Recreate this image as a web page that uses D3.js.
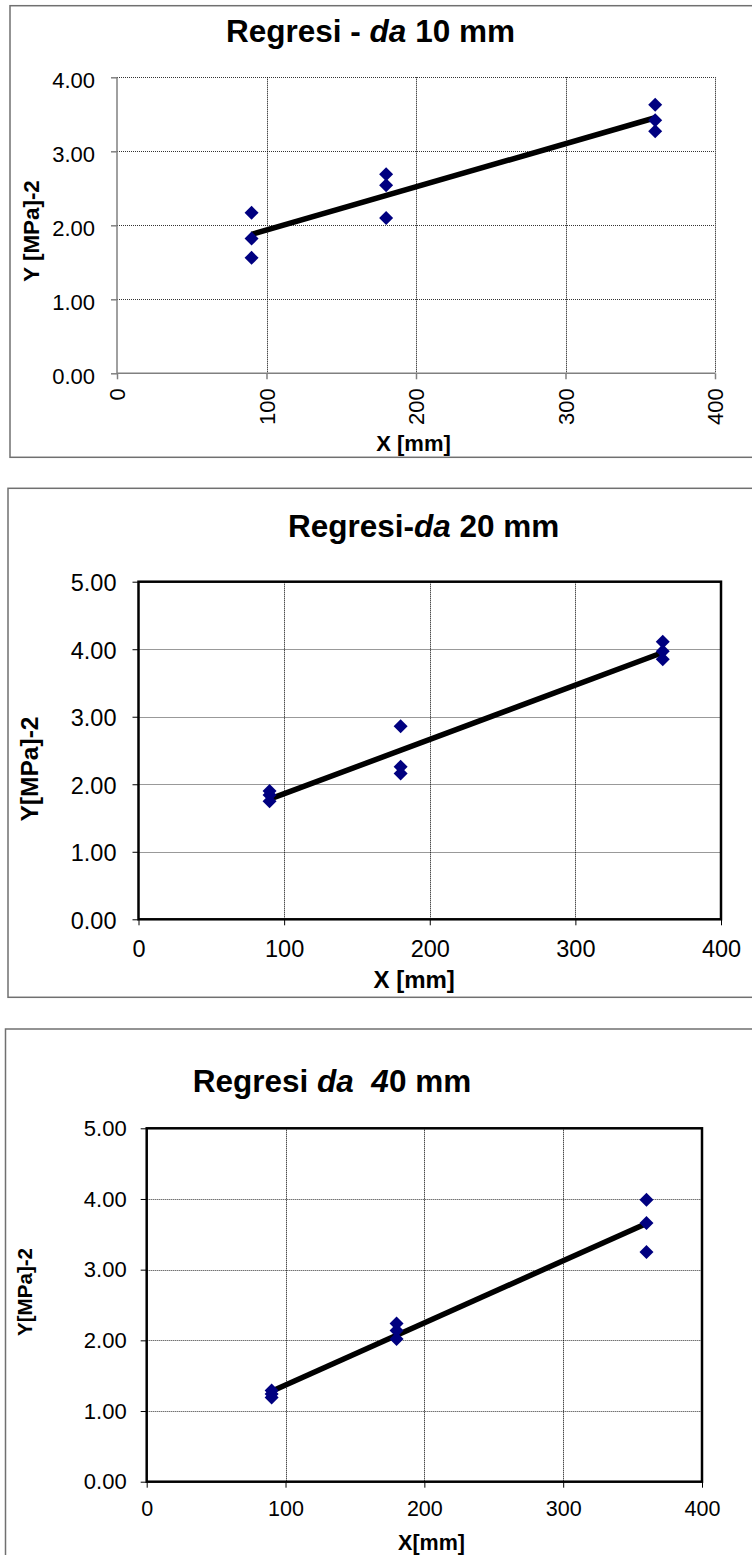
<!DOCTYPE html>
<html>
<head>
<meta charset="utf-8">
<script src="https://cdn.jsdelivr.net/npm/d3@7"></script>
<style>
  body { margin: 0; background: #fff; }
  svg { display: block; font-family: "Liberation Sans", Arial, sans-serif; }
</style>
</head>
<body>
<svg id="chart" width="752" height="1555"></svg>
<script>
// values
var xTicks = [0, 100, 200, 300, 400];
var yTicks4 = [0, 1, 2, 3, 4];
var yTicks5 = [0, 1, 2, 3, 4, 5];

// da 10 mm
var x10 = [90, 90, 90, 180, 180, 180, 360, 360, 360];
var y10 = [2.17, 1.82, 1.56, 2.69, 2.54, 2.10, 3.63, 3.42, 3.27];
// da 20 mm
var x20 = [90, 90, 90, 180, 180, 180, 360, 360, 360];
var y20 = [1.90, 1.84, 1.75, 2.86, 2.26, 2.16, 4.11, 3.97, 3.85];
// da 40 mm
var x40 = [90, 90, 90, 180, 180, 180, 360, 360, 360];
var y40 = [1.29, 1.24, 1.19, 2.24, 2.14, 2.02, 3.99, 3.66, 3.25];

var svg = d3.select("#chart");

// least squares line through the points (Excel linear trendline)
function fit(xs, ys) {
    var mx = d3.mean(xs), my = d3.mean(ys);
    var sxy = d3.sum(xs, function (d, i) { return (d - mx) * (ys[i] - my); });
    var sxx = d3.sum(xs, function (d) { return (d - mx) * (d - mx); });
    var b = sxy / sxx;
    return function (x) { return my + b * (x - mx); };
}

// snap 1px lines onto the pixel grid so the dots stay dark
function crisp(v) { return Math.round(v) + 0.5; }

function drawPanel(p) {
    var g = svg.append("g");

    // outer chart frame (runs off the right edge)
    g.append("rect")
        .attr("x", p.frame[0]).attr("y", p.frame[1])
        .attr("width", 800).attr("height", p.frame[2] - p.frame[1])
        .attr("fill", "none").attr("stroke", "#707070").attr("stroke-width", 1.5);

    var x = d3.scaleLinear().domain([0, 400]).range([p.left, p.right]);
    var y = d3.scaleLinear().domain([0, d3.max(p.yTicks)]).range([p.bottom, p.top]);

    // dotted grid
    var yMax = d3.max(p.yTicks);
    var hGrid = p.yTicks.filter(function (d) { return d > 0 && (p.box ? d < yMax : true); });
    var vGrid = xTicks.filter(function (d) { return d > 0 && (p.box ? d < 400 : true); });
    g.selectAll(".hg").data(hGrid).enter().append("line")
        .attr("x1", p.left).attr("x2", p.right)
        .attr("y1", function (d) { return crisp(y(d)); })
        .attr("y2", function (d) { return crisp(y(d)); })
        .attr("stroke", "#333").attr("stroke-width", 1).attr("stroke-dasharray", "1,1");
    g.selectAll(".vg").data(vGrid).enter().append("line")
        .attr("x1", function (d) { return crisp(x(d)); })
        .attr("x2", function (d) { return crisp(x(d)); })
        .attr("y1", p.top).attr("y2", p.bottom)
        .attr("stroke", "#000").attr("stroke-width", 1).attr("stroke-dasharray", "1,1");

    var axisColor = p.box ? "#000" : "#808080";

    // y axis
    var ya = g.append("g")
        .attr("transform", "translate(" + p.left + ",0)")
        .call(d3.axisLeft(y).tickValues(p.yTicks).tickFormat(d3.format(".2f"))
            .tickSize(6).tickSizeOuter(0).tickPadding(p.yPad));
    ya.select(".domain").remove();
    ya.selectAll("line").attr("stroke", axisColor).attr("stroke-width", p.box ? 1 : 1.5);
    ya.selectAll("text")
        .attr("font-family", "Liberation Sans, Arial, sans-serif")
        .attr("font-size", p.tickFont).attr("fill", "#000").attr("dy", p.yDy);

    // x axis
    var xa = g.append("g")
        .attr("transform", "translate(0," + p.bottom + ")")
        .call(d3.axisBottom(x).tickValues(xTicks).tickSize(6).tickSizeOuter(0));
    xa.select(".domain").remove();
    xa.selectAll("line").attr("stroke", axisColor).attr("stroke-width", p.box ? 1 : 1.5);
    var xt = xa.selectAll("text")
        .attr("font-family", "Liberation Sans, Arial, sans-serif")
        .attr("font-size", p.xTickFont).attr("fill", "#000");
    if (p.rotate) {
        xt.attr("transform", "rotate(-90)")
            .attr("text-anchor", "end")
            .attr("x", -15).attr("y", 7.8).attr("dy", 0);
    } else {
        xt.attr("y", p.xLabelBase).attr("dy", 0);
    }

    if (p.box) {
        g.append("rect")
            .attr("x", p.left).attr("y", p.top)
            .attr("width", p.right - p.left).attr("height", p.bottom - p.top)
            .attr("fill", "none").attr("stroke", "#000").attr("stroke-width", 2.5);
    } else {
        g.append("line")
            .attr("x1", p.left).attr("x2", p.left).attr("y1", p.top).attr("y2", p.bottom)
            .attr("stroke", axisColor).attr("stroke-width", 1.5);
        g.append("line")
            .attr("x1", p.left).attr("x2", p.right).attr("y1", p.bottom).attr("y2", p.bottom)
            .attr("stroke", axisColor).attr("stroke-width", 1.5);
    }

    // trend line
    var f = fit(p.xs, p.ys);
    var x0 = d3.min(p.xs), x1 = d3.max(p.xs);
    g.append("line")
        .attr("x1", x(x0)).attr("y1", y(f(x0)))
        .attr("x2", x(x1)).attr("y2", y(f(x1)))
        .attr("stroke", "#000").attr("stroke-width", 5.5);

    // points
    var diamond = d3.symbol().type(d3.symbolSquare).size(98);
    g.selectAll(".pt").data(p.ys).enter().append("path")
        .attr("d", diamond)
        .attr("transform", function (d, i) {
            return "translate(" + x(p.xs[i]) + "," + y(d) + ") rotate(45)";
        })
        .attr("fill", "#000080");

    // title
    var t = g.append("text")
        .attr("x", p.titleX).attr("y", p.titleY)
        .attr("text-anchor", "middle")
        .attr("font-size", 31.5).attr("font-weight", "bold")
        .style("white-space", "pre");
    p.title.forEach(function (part) {
        t.append("tspan").attr("font-style", part[1] ? "italic" : "normal").text(part[0]);
    });

    // axis titles
    g.append("text")
        .attr("x", p.xTitle[0]).attr("y", p.xTitle[1])
        .attr("text-anchor", "middle")
        .attr("font-size", p.xTitle[2]).attr("font-weight", "bold")
        .text(p.xLabel);
    g.append("text")
        .attr("transform", "translate(" + p.yTitle[0] + "," + p.yTitle[1] + ") rotate(-90)")
        .attr("text-anchor", "middle")
        .attr("font-size", p.yTitle[2]).attr("font-weight", "bold")
        .text(p.yLabel);
}

drawPanel({
    frame: [10, 5.7, 457.3],
    left: 117, right: 715, top: 77.3, bottom: 373.3,
    yTicks: yTicks4, box: false, rotate: true,
    tickFont: 22, xTickFont: 22, yPad: 16, yDy: "0.45em",
    xs: x10, ys: y10,
    title: [["Regresi - ", false], ["da", true], [" 10 mm", false]],
    titleX: 370.5, titleY: 41.7,
    xLabel: "X [mm]", xTitle: [413.5, 450.7, 22],
    yLabel: "Y [MPa]-2", yTitle: [39, 231, 22.4]
});

drawPanel({
    frame: [8, 488.3, 997.3],
    left: 138.5, right: 721, top: 581.7, bottom: 919.3,
    yTicks: yTicks5, box: true, rotate: false,
    tickFont: 23.5, xTickFont: 23.5, yPad: 16, yDy: "0.38em", xLabelBase: 38,
    xs: x20, ys: y20,
    title: [["Regresi-", false], ["da", true], [" 20 mm", false]],
    titleX: 423.7, titleY: 536.7,
    xLabel: "X [mm]", xTitle: [414.2, 988.3, 24],
    yLabel: "Y[MPa]-2", yTitle: [38, 769, 24.5]
});

drawPanel({
    frame: [5.5, 1029, 1600],
    left: 146.7, right: 702, top: 1128.3, bottom: 1481.7,
    yTicks: yTicks5, box: true, rotate: false,
    tickFont: 22, xTickFont: 21.5, yPad: 14, yDy: "0.33em", xLabelBase: 34.3,
    xs: x40, ys: y40,
    title: [["Regresi ", false], ["da  4", true], ["0 mm", false]],
    titleX: 332, titleY: 1092.3,
    xLabel: "X[mm]", xTitle: [431.5, 1550, 21.5],
    yLabel: "Y[MPa]-2", yTitle: [32, 1292, 20.6]
});
</script>
</body>
</html>
